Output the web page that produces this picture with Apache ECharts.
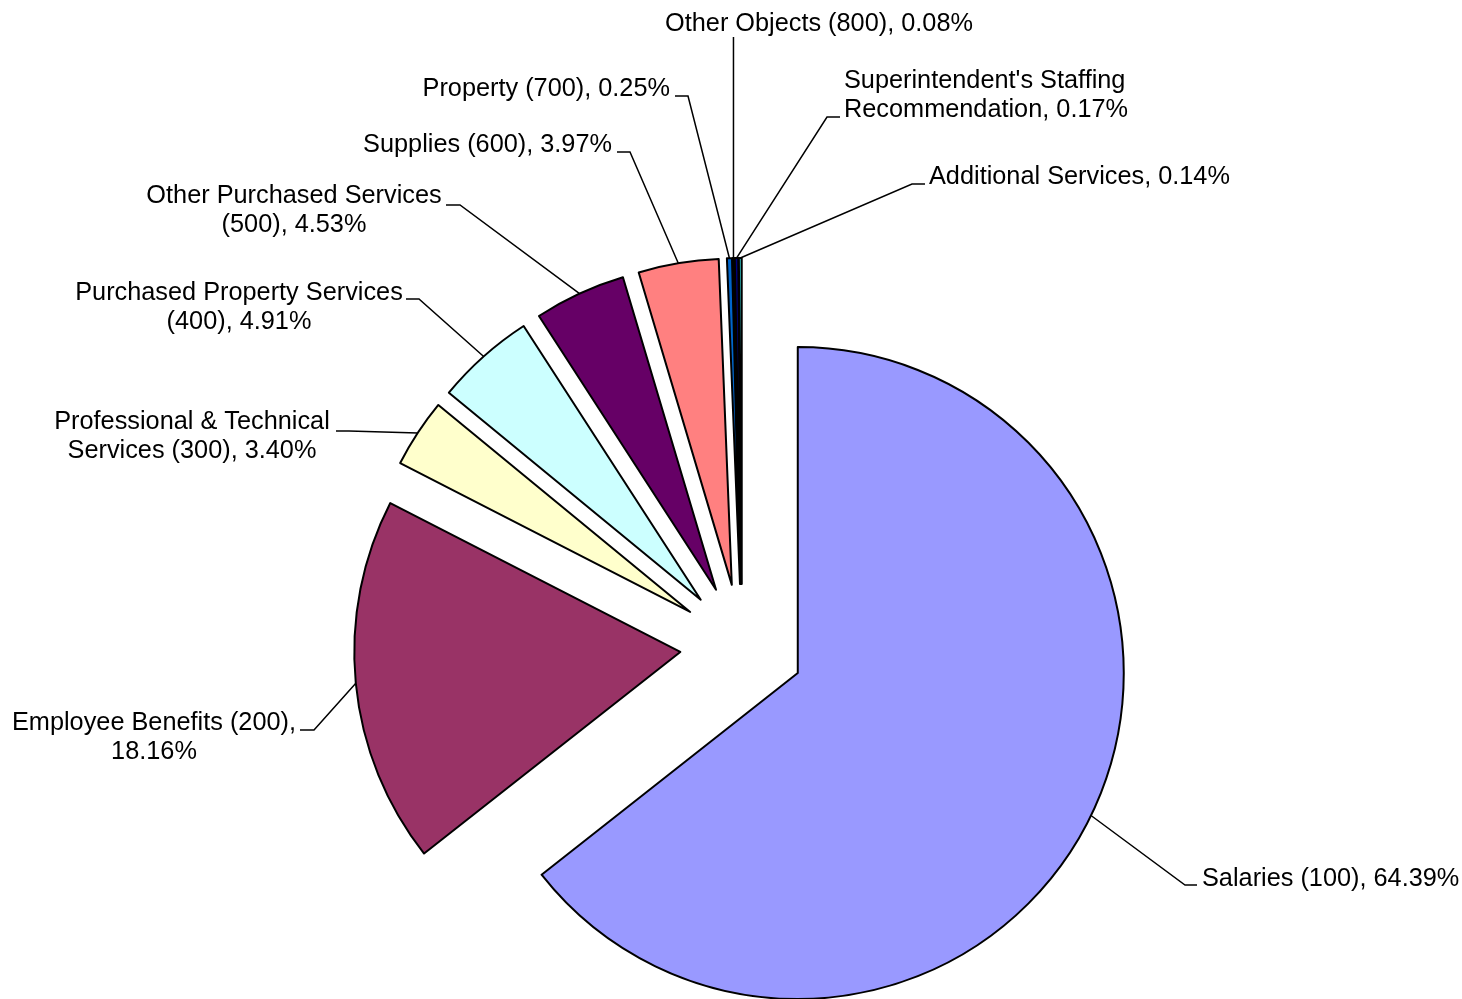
<!DOCTYPE html>
<html><head><meta charset="utf-8">
<script src="https://cdn.jsdelivr.net/npm/echarts@6/dist/echarts.min.js"></script>
<style>html,body{margin:0;padding:0;background:#fff}#c{width:1462px;height:999px}</style>
</head><body><div id="c"></div>
<script>
// ---- data ----
const categories = [
  'Salaries (100)',
  'Employee Benefits (200)',
  'Professional & Technical Services (300)',
  'Purchased Property Services (400)',
  'Other Purchased Services (500)',
  'Supplies (600)',
  'Property (700)',
  'Other Objects (800)',
  "Superintendent's Staffing Recommendation",
  'Additional Services'
];
const shares = [64.39, 18.16, 3.40, 4.91, 4.53, 3.97, 0.25, 0.08, 0.17, 0.14];

// ---- styles / layout ----
const colors = ['#9999FF', '#993366', '#FFFFCC', '#CCFFFF', '#660066', '#FF8080', '#0066CC', '#CCCCFF', '#000080', '#33CCCC'];
// word index before which the label wraps (-1 = no wrap)
const labelBreak = [-1, 3, 3, 3, 3, -1, -1, -1, 2, -1];
// label anchor, alignment, and where the leader line meets it
const labelPos = [
  { x: 1202, y: 879, align: 'left',   ax: 1197, ay: 885, elbow: -12 },
  { x: 154,  y: 738, align: 'center', ax: 300,  ay: 730, elbow: 14 },
  { x: 192,  y: 437, align: 'center', ax: 336,  ay: 431, elbow: 13 },
  { x: 239,  y: 308, align: 'center', ax: 406,  ay: 299, elbow: 13 },
  { x: 294,  y: 211, align: 'center', ax: 446,  ay: 205, elbow: 14 },
  { x: 612,  y: 145, align: 'right',  ax: 617,  ay: 152, elbow: 13 },
  { x: 670,  y: 89,  align: 'right',  ax: 675,  ay: 96,  elbow: 13 },
  { x: 819,  y: 24,  align: 'center', ax: null, ay: 37,  elbow: 0 },
  { x: 844,  y: 96,  align: 'left',   ax: 840,  ay: 117, elbow: -13 },
  { x: 929,  y: 177, align: 'left',   ax: 925,  ay: 184, elbow: -13 }
];
const CX = 742, CY = 646, R = 326, OFFSET = 62;
const FONT = '"Liberation Sans", Arial, sans-serif';

const total = shares.reduce((a, b) => a + b, 0);
function midDir(i) {
  let before = 0;
  for (let k = 0; k < i; k++) before += shares[k];
  const th = 2 * Math.PI * (before + shares[i] / 2) / total;
  return [Math.sin(th), -Math.cos(th)];
}

// One pie per slice (same data, only that slice visible) so that every
// slice is pulled out from the common centre along its own mid-angle.
const series = categories.map((_, si) => {
  const d = midDir(si);
  const cx = CX + OFFSET * d[0], cy = CY + OFFSET * d[1];
  return {
    type: 'pie',
    center: [cx, cy],
    radius: R,
    startAngle: 90,
    clockwise: true,
    avoidLabelOverlap: false,
    percentPrecision: 2,
    silent: true,
    emphasis: { disabled: true },
    data: categories.map((n, i) => i === si
      ? { name: n, value: shares[i], itemStyle: { color: colors[i], borderColor: '#000', borderWidth: 2 } }
      : { name: n, value: shares[i], itemStyle: { color: 'rgba(0,0,0,0)', borderWidth: 0 },
          label: { show: false }, labelLine: { show: false } }),
    label: {
      show: true,
      position: 'outside',
      fontFamily: FONT,
      fontSize: 25.3,
      lineHeight: 29,
      color: '#000',
      formatter: function (p) {
        const words = (p.name + ', ' + p.percent.toFixed(2) + '%').split(' ');
        const b = labelBreak[p.dataIndex];
        if (b > 0) return words.slice(0, b).join(' ') + '\n' + words.slice(b).join(' ');
        return words.join(' ');
      }
    },
    labelLine: { show: true, length: 20, length2: 13, lineStyle: { color: '#000', width: 1.5 } },
    labelLayout: function (p) {
      const L = labelPos[p.dataIndex];
      const dd = midDir(p.dataIndex);
      const s = [cx + R * dd[0], cy + R * dd[1]];
      const ax = L.ax == null ? s[0] : L.ax;
      return {
        x: L.x, y: L.y, align: L.align, verticalAlign: 'middle',
        labelLinePoints: [s, [ax + L.elbow, L.ay], [ax, L.ay]]
      };
    }
  };
});

const chart = echarts.init(document.getElementById('c'), null, { renderer: 'canvas' });
chart.setOption({ animation: false, backgroundColor: '#fff', series: series });
</script>
</body></html>
